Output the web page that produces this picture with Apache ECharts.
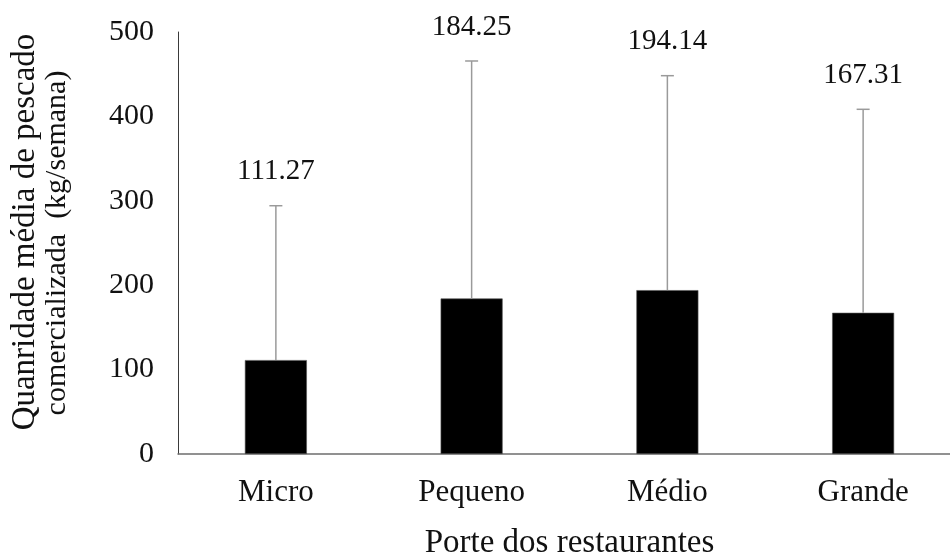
<!DOCTYPE html>
<html>
<head>
<meta charset="utf-8">
<script src="https://cdn.jsdelivr.net/npm/echarts@6/dist/echarts.min.js"></script>
<style>
  html, body { margin: 0; padding: 0; background: #fff; }
  #chart { width: 950px; height: 559px; }
</style>
</head>
<body>
<div id="chart"></div>
<script>
// Restaurant size classes
const categories = ['Micro', 'Pequeno', 'Médio', 'Grande'];
// Mean weekly fish volume sold (kg/semana)
const means = [111.27, 184.25, 194.14, 167.31];
// Standard deviation drawn as an upper error bar
const stdDevs = [182.9, 281.4, 254.1, 241.1];
// Y axis range and tick step
const yMin = 0;
const yMax = 500;
const yStep = 100;

const FONT = '"Liberation Serif", "Times New Roman", serif';
const TEXT = '#111';

const errorData = means.map((m, i) => [i, m, m + stdDevs[i]]);

const chart = echarts.init(document.getElementById('chart'), null, { renderer: 'canvas' });

chart.setOption({
  animation: false,
  backgroundColor: '#fff',
  grid: {
    left: 178, top: 32, bottom: 105, width: 783,
    containLabel: false,
    outerBoundsMode: 'none'
  },
  xAxis: {
    type: 'category',
    data: categories,
    axisTick: { show: false },
    axisLine: { lineStyle: { color: '#6e6e6e', width: 1.5 } },
    axisLabel: { fontFamily: FONT, fontSize: 31, color: TEXT, margin: 23 },
    name: 'Porte dos restaurantes',
    nameLocation: 'middle',
    nameGap: 73,
    nameTextStyle: { fontFamily: FONT, fontSize: 33, color: TEXT }
  },
  yAxis: {
    type: 'value',
    min: yMin,
    max: yMax,
    interval: yStep,
    splitLine: { show: false },
    axisTick: { show: false },
    axisLine: { show: true, lineStyle: { color: '#3a3a3a', width: 1 } },
    axisLabel: { fontFamily: FONT, fontSize: 30, color: TEXT, margin: 24 },
    name: '{a|Quanridade média de pescado}\n{b|comercializada  (kg/semana)}',
    nameLocation: 'middle',
    nameRotate: 90,
    nameGap: 105,
    nameTextStyle: {
      fontFamily: FONT,
      color: TEXT,
      align: 'center',
      rich: {
        a: { fontFamily: FONT, fontSize: 33, lineHeight: 32, color: TEXT, padding: [0, 0, 0, 22] },
        b: { fontFamily: FONT, fontSize: 30, lineHeight: 32, color: TEXT }
      }
    }
  },
  series: [
    {
      type: 'bar',
      data: means,
      barWidth: 62,
      itemStyle: { color: '#000', borderColor: '#555', borderWidth: 0.6 }
    },
    {
      type: 'custom',
      data: errorData,
      z: 5,
      renderItem: function (params, api) {
        const i = api.value(0);
        const base = api.coord([i, api.value(1)]);
        const top = api.coord([i, api.value(2)]);
        const half = 6.5;
        const stroke = { stroke: '#9a9a9a', lineWidth: 1.5 };
        return {
          type: 'group',
          children: [
            { type: 'line', shape: { x1: base[0], y1: base[1], x2: top[0], y2: top[1] }, style: stroke },
            { type: 'line', shape: { x1: top[0] - half, y1: top[1], x2: top[0] + half, y2: top[1] }, style: stroke },
            {
              type: 'text',
              x: top[0],
              y: top[1] - 34,
              style: {
                text: api.value(1).toFixed(2),
                fontFamily: FONT,
                fontSize: 29,
                fill: TEXT,
                align: 'center',
                verticalAlign: 'middle'
              }
            }
          ]
        };
      }
    }
  ]
});
</script>
</body>
</html>
